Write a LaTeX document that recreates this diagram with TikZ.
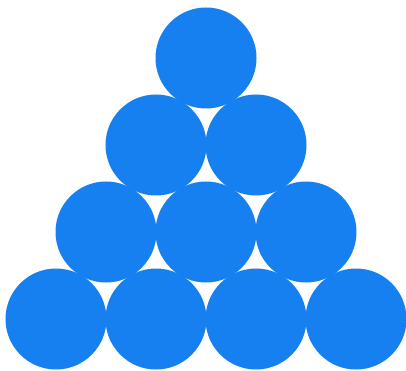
\documentclass[tikz,border=0pt]{standalone}
\usepackage{tikz}
\definecolor{ballblue}{RGB}{22,128,240}

\begin{document}
\begin{tikzpicture}[x=1pt, y=-1pt,
    ball/.style={circle, fill=ballblue, inner sep=0pt, minimum size=101pt}]
  \useasboundingbox (0,0) rectangle (406,371);
  % Stack of balls, row 0 on top
  \foreach \r in {0,...,3} {
    \foreach \k in {0,...,\r} {
      \node[ball] (ball-\r-\k) at ({206-50*\r+100*\k},{58+87*\r}) {};
    }
  }
\end{tikzpicture}
\end{document}
